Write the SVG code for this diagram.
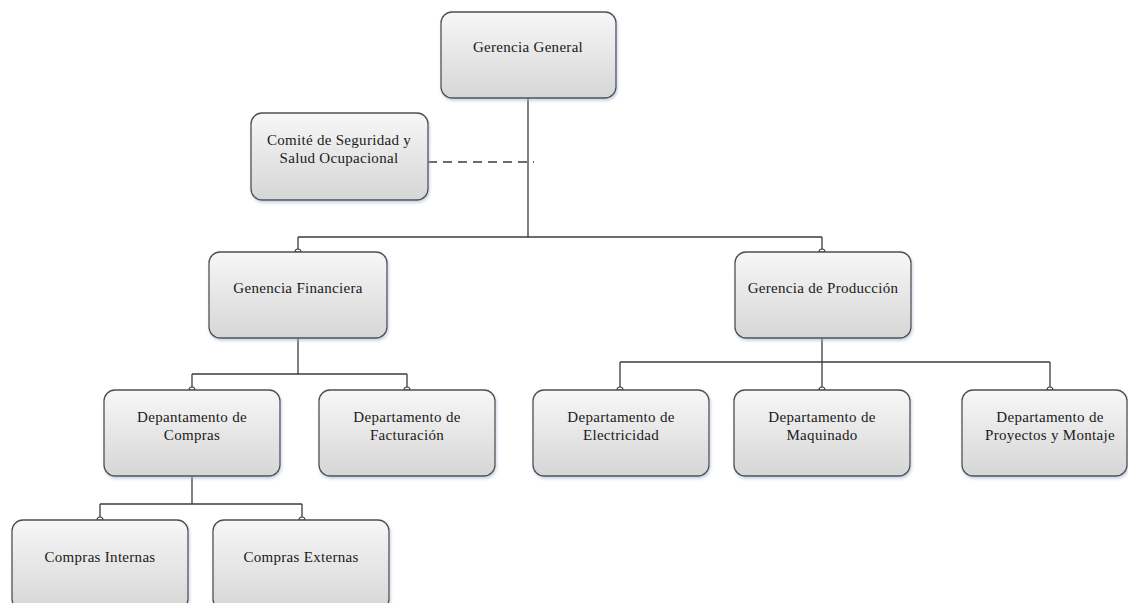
<svg xmlns="http://www.w3.org/2000/svg" width="1128" height="603" viewBox="0 0 1128 603">
<defs>
<linearGradient id="g" x1="0" y1="0" x2="0" y2="1">
<stop offset="0" stop-color="#f7f7f7"/>
<stop offset="1" stop-color="#d6d6d6"/>
</linearGradient>
<filter id="sh" x="-10%" y="-10%" width="130%" height="130%">
<feDropShadow dx="1" dy="2" stdDeviation="1.5" flood-color="#9fb3d1" flood-opacity="0.6"/>
</filter>
</defs>
<style>
.box{fill:url(#g);stroke:#505050;stroke-width:1.3;filter:url(#sh)}
.t{font-family:'Liberation Serif','DejaVu Serif',serif;font-size:15px;fill:#1a1a1a;text-anchor:middle;letter-spacing:0.3px}
.c{fill:none;stroke:#3c3c3c;stroke-width:1.3}
.d{fill:none;stroke:#3c3c3c;stroke-width:1.3;stroke-dasharray:9,6}
.k{fill:#fff;stroke:#3c3c3c;stroke-width:1.1}
</style>
<rect width="1128" height="603" fill="#fff"/>
<g id="connectors">
<path class="c" d="M528 98 V237 M298 237 H822 M298 237 V252 M822 237 V252"/>
<path class="d" d="M428 162 H534"/>
<path class="c" d="M298 338 V374 M192 374 H407 M192 374 V390 M407 374 V390"/>
<path class="c" d="M822 338 V362 M620 362 H1050 M620 362 V390 M822 362 V390 M1050 362 V390"/>
<path class="c" d="M192 476 V504 M100 504 H302 M100 504 V520 M302 504 V520"/>
<path class="k" d="M295 252 A3 3 0 0 1 301 252 Z"/>
<path class="k" d="M819 252 A3 3 0 0 1 825 252 Z"/>
<path class="k" d="M189 390 A3 3 0 0 1 195 390 Z"/>
<path class="k" d="M404 390 A3 3 0 0 1 410 390 Z"/>
<path class="k" d="M617 390 A3 3 0 0 1 623 390 Z"/>
<path class="k" d="M819 390 A3 3 0 0 1 825 390 Z"/>
<path class="k" d="M1047 390 A3 3 0 0 1 1053 390 Z"/>
<path class="k" d="M97 520 A3 3 0 0 1 103 520 Z"/>
<path class="k" d="M299 520 A3 3 0 0 1 305 520 Z"/>
</g>
<g id="gerencia-general"><rect class="box" x="441" y="12" width="175" height="86" rx="11"/><text class="t" font-family="Liberation Serif" x="528" y="52">Gerencia General</text></g>
<g id="comite"><rect class="box" x="251" y="113" width="177" height="87" rx="11"/><text class="t" x="339" y="145">Comité de Seguridad y</text><text class="t" x="339" y="163">Salud Ocupacional</text></g>
<g id="financiera"><rect class="box" x="209" y="252" width="178" height="86" rx="11"/><text class="t" x="298" y="293">Genencia Financiera</text></g>
<g id="produccion"><rect class="box" x="735" y="252" width="176" height="86" rx="11"/><text class="t" x="823" y="293">Gerencia de Producción</text></g>
<g id="compras"><rect class="box" x="104" y="390" width="176" height="86" rx="11"/><text class="t" x="192" y="422">Depantamento de</text><text class="t" x="192" y="440">Compras</text></g>
<g id="facturacion"><rect class="box" x="319" y="390" width="176" height="86" rx="11"/><text class="t" x="407" y="422">Departamento de</text><text class="t" x="407" y="440">Facturación</text></g>
<g id="electricidad"><rect class="box" x="533" y="390" width="176" height="86" rx="11"/><text class="t" x="621" y="422">Departamento de</text><text class="t" x="621" y="440">Electricidad</text></g>
<g id="maquinado"><rect class="box" x="734" y="390" width="176" height="86" rx="11"/><text class="t" x="822" y="422">Departamento de</text><text class="t" x="822" y="440">Maquinado</text></g>
<g id="proyectos"><rect class="box" x="962" y="390" width="165" height="86" rx="11"/><text class="t" x="1050" y="422">Departamento de</text><text class="t" x="1050" y="440">Proyectos y Montaje</text></g>
<g id="compras-internas"><rect class="box" x="12" y="520" width="176" height="90" rx="11"/><text class="t" x="100" y="562">Compras Internas</text></g>
<g id="compras-externas"><rect class="box" x="213" y="520" width="176" height="90" rx="11"/><text class="t" x="301" y="562">Compras Externas</text></g>
</svg>
